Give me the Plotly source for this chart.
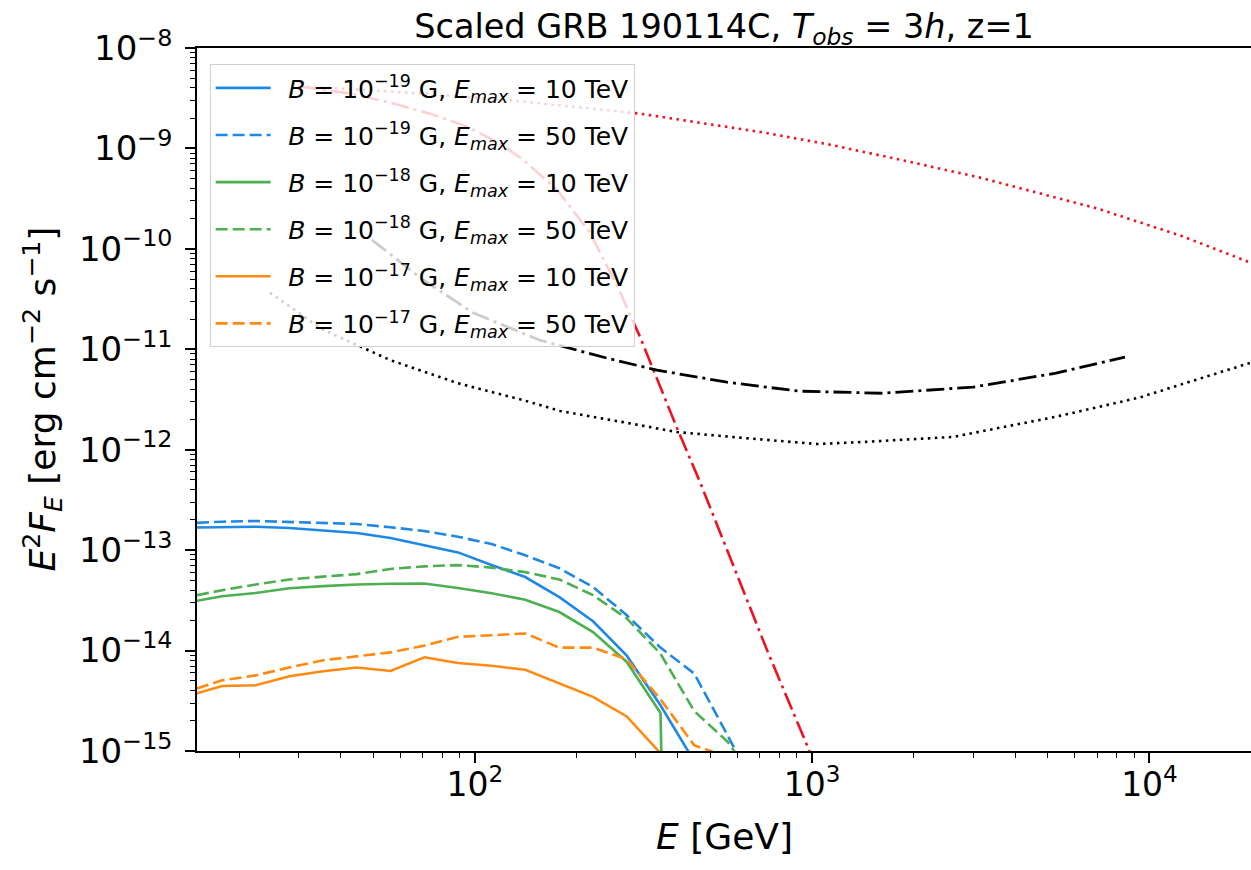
import plotly.graph_objects as go

# ---------------- data (E in GeV, E^2 F_E in erg cm^-2 s^-1) ----------------
# cascade energy grid
E_grid = [15, 17.8, 22.4, 28.2, 35.5, 44.7, 56.2, 70.8, 89.1, 112, 141, 178,
          224, 282, 355, 447, 562, 708]

b19_e10 = [1.68e-13, 1.69e-13, 1.71e-13, 1.66e-13, 1.58e-13, 1.48e-13, 1.32e-13,
           1.12e-13, 9.5e-14, 7.1e-14, 5.4e-14, 3.4e-14, 1.96e-14, 8.9e-15,
           2.85e-15, 7.9e-16]
b19_e50 = [1.87e-13, 1.92e-13, 1.95e-13, 1.90e-13, 1.87e-13, 1.82e-13, 1.69e-13,
           1.55e-13, 1.36e-13, 1.15e-13, 8.9e-14, 6.6e-14, 4.3e-14, 2.25e-14,
           1.07e-14, 5.9e-15, 1.42e-15, 3.2e-16]
# last value: flux drops to (numerically) zero
b18_e10 = [3.13e-14, 3.48e-14, 3.75e-14, 4.18e-14, 4.38e-14, 4.55e-14, 4.63e-14,
           4.65e-14, 4.2e-14, 3.72e-14, 3.21e-14, 2.42e-14, 1.53e-14, 7.7e-15,
           2.39e-15, 1e-30]
b18_e50 = [3.56e-14, 3.99e-14, 4.55e-14, 5.1e-14, 5.45e-14, 5.77e-14, 6.5e-14,
           6.9e-14, 7.1e-14, 6.7e-14, 6.04e-14, 5.1e-14, 3.56e-14, 2.09e-14,
           9.3e-15, 2.5e-15, 1.23e-15, 4e-16]
b17_e10 = [3.75e-15, 4.44e-15, 4.51e-15, 5.54e-15, 6.22e-15, 6.78e-15, 6.27e-15,
           8.57e-15, 7.52e-15, 7.05e-15, 6.44e-15, 4.72e-15, 3.46e-15, 2.21e-15,
           9.5e-16]
b17_e50 = [4.2e-15, 5.05e-15, 5.66e-15, 6.8e-15, 8.0e-15, 8.77e-15, 9.6e-15,
           1.12e-14, 1.37e-14, 1.42e-14, 1.48e-14, 1.07e-14, 1.07e-14, 8.2e-15,
           3.27e-15, 1.14e-15, 8.7e-16]

# intrinsic (unabsorbed) GRB spectrum
E_intr = [30.3, 42.6, 70.2, 138.9, 308.7, 465, 700, 1129, 1821, 3145, 3993,
          7037, 12400, 20000]
F_intr = [4.13e-9, 3.90e-9, 3.52e-9, 2.93e-9, 2.22e-9, 1.81e-9, 1.46e-9,
          1.09e-9, 7.73e-10, 5.12e-10, 4.16e-10, 2.51e-10, 1.35e-10, 7.26e-11]

# EBL-absorbed spectrum
E_abs = [30.3, 42.6, 56.0, 73.6, 94.8, 118.7, 138.9, 175.1, 219.4, 269.3, 308.7,
         397.4, 465.0, 641.0, 734.8, 985.4]
F_abs = [4.13e-9, 3.52e-9, 2.86e-9, 2.22e-9, 1.65e-9, 1.12e-9, 7.73e-10,
         3.88e-10, 1.45e-10, 3.73e-11, 1.33e-11, 1.64e-12, 4.76e-13, 3.18e-14,
         1.01e-14, 9.7e-16]

# sensitivity curves
E_sens_a = [49.5, 70.2, 98.7, 156, 246.4, 346.7, 559, 914, 1611, 2999, 5283, 8460]
F_sens_a = [1.23e-10, 4.92e-11, 2.31e-11, 1.23e-11, 8.16e-12, 6.2e-12, 4.7e-12,
            3.83e-12, 3.65e-12, 4.2e-12, 5.79e-12, 8.36e-12]
E_sens_b = [24.7, 35.5, 56.0, 88.5, 138.9, 178.8, 282.5, 397.4, 623.6, 1033.5,
            1386, 2615, 5283, 9310, 20000]
F_sens_b = [3.65e-11, 1.56e-11, 7.83e-12, 4.62e-12, 3.12e-12, 2.43e-12, 1.85e-12,
            1.5e-12, 1.31e-12, 1.14e-12, 1.19e-12, 1.34e-12, 2.13e-12, 3.3e-12,
            7.36e-12]

y_tick_exp = [-15, -14, -13, -12, -11, -10, -9, -8]
x_tick_exp = [2, 3, 4]

BLUE = "#1f88e5"
GREEN = "#4caf50"
ORANGE = "#ff8a12"
RED = "#ee1122"

FONT = "DejaVu Sans"
DASH = "12px,5px"
DOT = "2.5px,4.5px"
DASHDOT = "18px,5px,3px,5px"

fig = go.Figure()

# background curves
fig.add_trace(go.Scatter(x=E_intr, y=F_intr, mode="lines", showlegend=False,
                         line=dict(color=RED, width=2.6, dash=DOT)))
fig.add_trace(go.Scatter(x=E_abs, y=F_abs, mode="lines", showlegend=False,
                         line=dict(color=RED, width=2.6, dash=DASHDOT)))
fig.add_trace(go.Scatter(x=E_sens_a, y=F_sens_a, mode="lines", showlegend=False,
                         line=dict(color="black", width=2.8, dash=DASHDOT)))
fig.add_trace(go.Scatter(x=E_sens_b, y=F_sens_b, mode="lines", showlegend=False,
                         line=dict(color="black", width=2.6, dash=DOT)))

def lab(b, em):
    return ("\u2002<i>B</i> = 10<sup>\u2212%d</sup> G, <i>E</i><sub><i>max</i></sub> = %d TeV"
            % (b, em))

series = [
    (b19_e10, BLUE, "solid", lab(19, 10)),
    (b19_e50, BLUE, DASH, lab(19, 50)),
    (b18_e10, GREEN, "solid", lab(18, 10)),
    (b18_e50, GREEN, DASH, lab(18, 50)),
    (b17_e10, ORANGE, "solid", lab(17, 10)),
    (b17_e50, ORANGE, DASH, lab(17, 50)),
]
for i, (vals, col, dash, name) in enumerate(series):
    fig.add_trace(go.Scatter(x=E_grid[:len(vals)], y=vals, mode="lines", name=name,
                             legendgroup="g%d" % i,
                             line=dict(color=col, width=2.6, dash=dash)))

fig.update_layout(
    width=1251, height=870,
    margin=dict(l=197, r=0, t=48, b=119, autoexpand=False),
    plot_bgcolor="white", paper_bgcolor="white",
    font=dict(family=FONT, color="black"),
    title=dict(text="Scaled GRB 190114C, <i>T</i><sub><i>obs</i></sub> = 3<i>h</i>, z=1",
               x=0.5, xref="paper", xanchor="center",
               y=1 - 26 / 870, yref="container", yanchor="middle",
               font=dict(size=33.5, family=FONT)),
    legend=dict(x=0.012, y=0.977, xanchor="left", yanchor="top",
                bgcolor="rgba(255,255,255,0.8)", bordercolor="#d0d0d0", borderwidth=1,
                font=dict(size=25, family=FONT), itemwidth=55,
                traceorder="grouped", tracegroupgap=11.6),
    showlegend=True,
)

fig.update_xaxes(
    type="log", range=[1.1761, 4.30103], automargin=False,
    showgrid=False, zeroline=False,
    showline=True, linecolor="black", linewidth=1.5, mirror=True,
    ticks="outside", ticklen=10, tickwidth=1.5, tickcolor="black",
    tickvals=[10 ** e for e in x_tick_exp],
    ticktext=["10<sup>%d</sup>" % e for e in x_tick_exp],
    tickfont=dict(size=33, family=FONT), ticklabelstandoff=-6,
    minor=dict(ticks="outside", ticklen=5, tickwidth=1.2, tickcolor="black", dtick="D1",
               showgrid=False),
)
fig.update_yaxes(
    type="log", range=[-15, -8], automargin=False,
    showgrid=False, zeroline=False,
    showline=True, linecolor="black", linewidth=1.5, mirror=False,
    ticks="outside", ticklen=10, tickwidth=1.5, tickcolor="black",
    tickvals=[10.0 ** e for e in y_tick_exp],
    ticktext=["10<sup>\u2212%d</sup>" % (-e) for e in y_tick_exp],
    tickfont=dict(size=34, family=FONT), ticklabelstandoff=6,
    minor=dict(ticks="outside", ticklen=5, tickwidth=1.2, tickcolor="black", dtick="D1",
               showgrid=False),
)

fig.add_annotation(text="<i>E</i> [GeV]", xref="paper", yref="paper",
                   x=0.5, y=-0.122, xanchor="center", yanchor="middle",
                   showarrow=False, font=dict(size=36, family=FONT))
fig.add_annotation(text="<i>E</i><sup>2</sup><i>F</i><sub><i>E</i></sub> [erg cm<sup>\u22122</sup> s<sup>\u22121</sup>]",
                   xref="paper", yref="paper", x=-0.147, y=0.5, textangle=-90,
                   xanchor="center", yanchor="middle",
                   showarrow=False, font=dict(size=36, family=FONT))

fig.write_html("out.html", config={"displayModeBar": False},
               post_script="document.body.style.margin='0px';document.body.style.overflow='hidden';")
